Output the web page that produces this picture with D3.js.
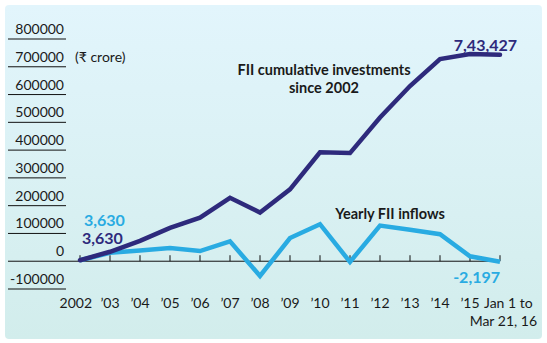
<!DOCTYPE html>
<html>
<head>
<meta charset="utf-8">
<script src="https://cdn.jsdelivr.net/npm/d3@7"></script>
<style>
  body { margin: 0; background: #fff; }
  text { font-family: Lato, "Open Sans", sans-serif; }
</style>
</head>
<body>
<div id="chart"></div>
<script>
var svgWidth = 547;
var svgHeight = 343;

// data (₹ crore)
var years = ["2002", "’03", "’04", "’05", "’06", "’07", "’08", "’09", "’10", "’11", "’12", "’13", "’14", "’15", "Jan 1 to"];
var cumulative = [3630, 34089, 73054, 120235, 156775, 228261, 175274, 258698, 391964, 389250, 517610, 630746, 727800, 745624, 743427];
var yearly = [3630, 30459, 38965, 47181, 36540, 71486, -52987, 83424, 133266, -2714, 128360, 113136, 97054, 17806, -2197];
var yTicks = [-100000, 0, 100000, 200000, 300000, 400000, 500000, 600000, 700000, 800000];

var svg = d3.select("#chart")
    .append("svg")
    .attr("width", svgWidth)
    .attr("height", svgHeight);

// background panel with soft gradient
var grad = svg.append("defs").append("linearGradient")
    .attr("id", "bg")
    .attr("x1", 0).attr("y1", 0).attr("x2", 0).attr("y2", 1);
grad.append("stop").attr("offset", "0%").attr("stop-color", "#e2f5fc");
grad.append("stop").attr("offset", "100%").attr("stop-color", "#d2edec");

svg.append("rect")
    .attr("x", 5).attr("y", 5)
    .attr("width", 537).attr("height", 334)
    .attr("rx", 4)
    .attr("fill", "url(#bg)");

var x = d3.scalePoint()
    .domain(years)
    .range([80, 500]);

var y = d3.scaleLinear()
    .domain([-100000, 800000])
    .range([289, 39]);

// y "axis": short underlines with labels above
var yAxis = svg.append("g");
yAxis.selectAll("line")
    .data(yTicks)
    .enter()
    .append("line")
    .attr("x1", 8)
    .attr("x2", 66)
    .attr("y1", d => y(d))
    .attr("y2", d => y(d))
    .attr("stroke", "#111")
    .attr("stroke-width", 1);
yAxis.selectAll("text")
    .data(yTicks)
    .enter()
    .append("text")
    .attr("x", 64)
    .attr("y", d => y(d) - 5)
    .attr("text-anchor", "end")
    .attr("font-size", "14px")
    .attr("fill", "#1a1a1a")
    .text(d => d);

// zero line with upward ticks
svg.append("line")
    .attr("x1", 66).attr("x2", x("Jan 1 to"))
    .attr("y1", y(0)).attr("y2", y(0))
    .attr("stroke", "#111");
svg.append("g").selectAll("line")
    .data(years)
    .enter()
    .append("line")
    .attr("x1", d => x(d)).attr("x2", d => x(d))
    .attr("y1", y(0)).attr("y2", y(0) - 6)
    .attr("stroke", "#111");

// x labels
svg.append("g").selectAll("text")
    .data(years)
    .enter()
    .append("text")
    .attr("x", d => d == "Jan 1 to" ? x(d) - 16 : x(d))
    .attr("y", 308)
    .attr("text-anchor", (d, i) => i == 0 ? "end" : (d == "Jan 1 to" ? "start" : "middle"))
    .attr("dx", (d, i) => i == 0 ? 12 : 0)
    .attr("font-size", "14px")
    .attr("fill", "#1a1a1a")
    .text(d => d);
svg.append("text")
    .attr("x", 537).attr("y", 326)
    .attr("text-anchor", "end")
    .attr("font-size", "14px")
    .attr("fill", "#1a1a1a")
    .text("Mar 21, 16");

var line = d3.line()
    .x((d, i) => x(years[i]))
    .y(d => y(d));

svg.append("path")
    .datum(yearly)
    .attr("d", line)
    .attr("fill", "none")
    .attr("stroke", "#29abe2")
    .attr("stroke-width", 4.5)
    .attr("stroke-linejoin", "miter");

svg.append("path")
    .datum(cumulative)
    .attr("d", line)
    .attr("fill", "none")
    .attr("stroke", "#2e2a7c")
    .attr("stroke-width", 4.5)
    .attr("stroke-linecap", "round");

// annotations
svg.append("text")
    .attr("x", 75).attr("y", 62)
    .attr("font-size", "14px")
    .attr("fill", "#1a1a1a")
    .text("(₹ crore)");

svg.append("text")
    .attr("x", 324).attr("y", 75)
    .attr("text-anchor", "middle")
    .attr("font-size", "14.5px")
    .attr("font-weight", "bold")
    .attr("fill", "#1a1a1a")
    .text("FII cumulative investments");
svg.append("text")
    .attr("x", 324).attr("y", 93)
    .attr("text-anchor", "middle")
    .attr("font-size", "14.5px")
    .attr("font-weight", "bold")
    .attr("fill", "#1a1a1a")
    .text("since 2002");

svg.append("text")
    .attr("x", 390).attr("y", 219)
    .attr("text-anchor", "middle")
    .attr("font-size", "14.5px")
    .attr("font-weight", "bold")
    .attr("fill", "#1a1a1a")
    .text("Yearly FII inflows");

svg.append("text")
    .attr("x", 84).attr("y", 226)
    .attr("font-size", "16px")
    .attr("font-weight", "bold")
    .attr("fill", "#29abe2")
    .text(d3.format(",")(yearly[0]));
svg.append("text")
    .attr("x", 82).attr("y", 244)
    .attr("font-size", "16px")
    .attr("font-weight", "bold")
    .attr("fill", "#2e2a7c")
    .text(d3.format(",")(cumulative[0]));

svg.append("text")
    .attr("x", 517).attr("y", 51)
    .attr("text-anchor", "end")
    .attr("font-size", "16px")
    .attr("font-weight", "bold")
    .attr("fill", "#2e2a7c")
    .text("7,43,427");
svg.append("text")
    .attr("x", 500).attr("y", 283)
    .attr("text-anchor", "end")
    .attr("font-size", "16px")
    .attr("font-weight", "bold")
    .attr("fill", "#29abe2")
    .text("-2,197");
</script>
</body>
</html>
